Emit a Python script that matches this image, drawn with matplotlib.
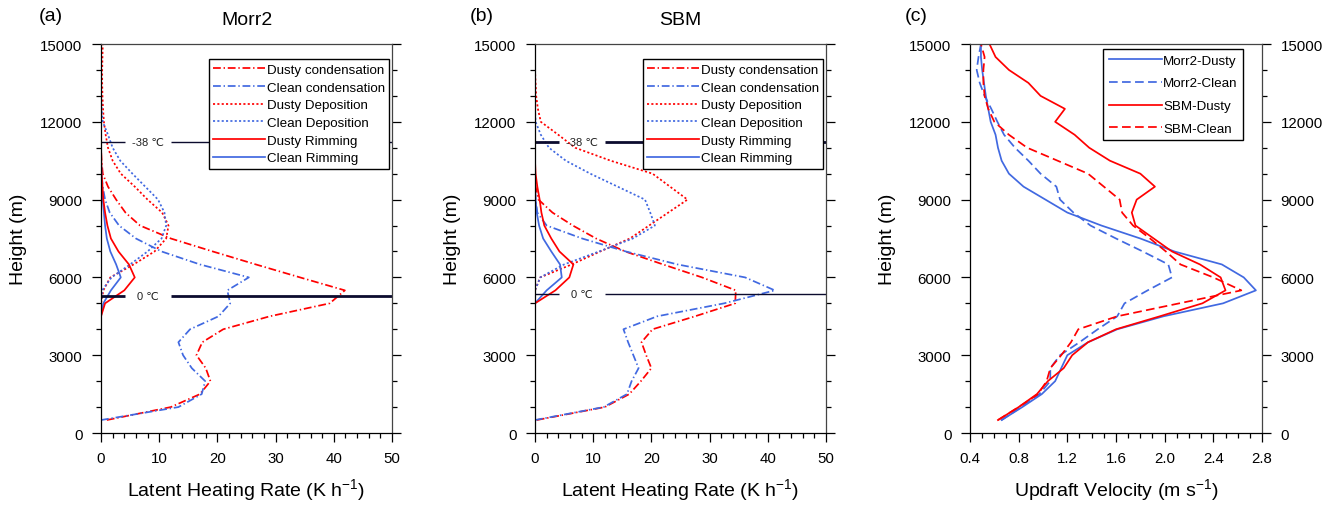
import matplotlib
matplotlib.use('Agg')
import matplotlib.pyplot as plt
from matplotlib.ticker import MultipleLocator

plt.rcParams['font.family'] = ['Liberation Sans', 'DejaVu Sans']
plt.rcParams['mathtext.default'] = 'regular'

# model levels (m)
heights = [500, 1000, 1500, 2000, 2500, 3000, 3500, 4000, 4500, 5000,
           5500, 6000, 6500, 7000, 7500, 8000, 8500, 9000, 9500, 10000,
           10500, 11000, 11500, 12000, 12500, 13000, 13500, 14000, 14500, 15000]

# Morr2 latent heating rates (K/h)
morr_dusty_cond = [1.0, 12.0, 17.0, 18.8, 18.0, 16.4, 17.4, 21.0, 29.0, 39.3,
                   41.9, 34.2, 26.6, 19.2, 12.0, 6.7, 4.2, 2.6, 1.2, 0.3,
                   0.1, 0, 0, 0, 0, 0, 0, 0, 0, 0]
morr_clean_cond = [0.0, 13.3, 17.3, 17.9, 15.6, 14.1, 13.3, 15.3, 20.2, 22.2,
                   21.7, 25.4, 17.0, 10.4, 6.0, 3.1, 1.5, 0.7, 0.3, 0.1,
                   0, 0, 0, 0, 0, 0, 0, 0, 0, 0]
morr_dusty_dep = [0, 0, 0, 0, 0, 0, 0, 0, 0, 0,
                  0.4, 1.6, 5.6, 9.2, 11.2, 11.6, 10.5, 8.0, 5.8, 3.4,
                  2.0, 1.2, 0.8, 0.5, 0.35, 0.25, 0.2, 0.2, 0.25, 0.3]
morr_clean_dep = [0, 0, 0, 0, 0, 0, 0, 0, 0, 0,
                  0.2, 1.8, 5.0, 8.0, 10.4, 11.2, 10.9, 9.8, 7.6, 5.4,
                  3.3, 2.0, 1.2, 0.3, 0.1, 0, 0, 0, 0, 0]
morr_dusty_rim = [0, 0, 0, 0, 0, 0, 0, 0, 0, 0.7,
                  4.0, 5.8, 4.8, 3.0, 1.7, 1.1, 0.7, 0.4, 0.25, 0.1,
                  0.05, 0, 0, 0, 0, 0, 0, 0, 0, 0]
morr_clean_rim = [0, 0, 0, 0, 0, 0, 0, 0, 0, 0.4,
                  1.7, 3.4, 2.6, 1.6, 1.0, 0.7, 0.5, 0.3, 0.2, 0.1,
                  0, 0, 0, 0, 0, 0, 0, 0, 0, 0]

# SBM latent heating rates (K/h)
sbm_dusty_cond = [0.3, 12.0, 16.2, 18.2, 20.0, 19.1, 18.3, 20.2, 27.5, 34.4,
                  34.5, 28.7, 22.0, 15.5, 10.5, 6.5, 3.0, 0.6, 0.1, 0,
                  0, 0, 0, 0, 0, 0, 0, 0, 0, 0]
sbm_clean_cond = [0.0, 11.8, 15.8, 16.6, 17.8, 16.9, 16.0, 15.2, 21.0, 32.5,
                  41.2, 36.1, 24.5, 15.6, 8.1, 2.0, 0.4, 0.1, 0, 0,
                  0, 0, 0, 0, 0, 0, 0, 0, 0, 0]
sbm_dusty_dep = [0, 0, 0, 0, 0, 0, 0, 0, 0, 0,
                 0, 0.9, 6.3, 11.2, 16.3, 19.6, 22.9, 26.2, 23.2, 20.2,
                 13.0, 6.9, 4.0, 1.0, 0.5, 0.2, 0.1, 0, 0, 0]
sbm_clean_dep = [0, 0, 0, 0, 0, 0, 0, 0, 0, 0,
                 0, 0.9, 5.0, 11.0, 16.8, 20.6, 19.8, 18.9, 14.2, 9.5,
                 5.3, 2.4, 1.0, 0.1, 0, 0, 0, 0, 0, 0]
sbm_dusty_rim = [0, 0, 0, 0, 0, 0, 0, 0, 0, 0,
                 3.5, 5.9, 6.6, 4.2, 2.8, 1.6, 1.1, 0.8, 0.4, 0.1,
                 0, 0, 0, 0, 0, 0, 0, 0, 0, 0]
sbm_clean_rim = [0, 0, 0, 0, 0, 0, 0, 0, 0, 0,
                 2.0, 4.6, 4.3, 2.8, 1.4, 0.7, 0.3, 0.1, 0, 0,
                 0, 0, 0, 0, 0, 0, 0, 0, 0, 0]

# mean updraft velocity (m/s)
w_morr_dusty = [0.66, 0.83, 0.99, 1.10, 1.15, 1.20, 1.37, 1.61, 1.99, 2.48,
                2.75, 2.65, 2.47, 2.08, 1.80, 1.48, 1.20, 1.02, 0.84, 0.72,
                0.66, 0.63, 0.61, 0.57, 0.55, 0.53, 0.515, 0.50, 0.49, 0.49]
w_morr_clean = [0.66, 0.82, 0.97, 1.06, 1.06, 1.14, 1.30, 1.45, 1.61, 1.67,
                1.86, 2.06, 2.03, 1.82, 1.60, 1.39, 1.25, 1.14, 1.11, 0.98,
                0.88, 0.77, 0.68, 0.625, 0.575, 0.52, 0.48, 0.455, 0.47, 0.49]
w_sbm_dusty = [0.63, 0.80, 0.95, 1.04, 1.17, 1.24, 1.37, 1.60, 1.96, 2.31,
               2.50, 2.46, 2.29, 2.06, 1.91, 1.76, 1.73, 1.77, 1.92, 1.80,
               1.55, 1.38, 1.26, 1.10, 1.18, 0.98, 0.88, 0.72, 0.61, 0.56]
w_sbm_clean = [0.63, 0.80, 0.96, 1.03, 1.06, 1.15, 1.23, 1.29, 1.61, 2.12,
               2.63, 2.40, 2.13, 2.01, 1.88, 1.74, 1.65, 1.63, 1.50, 1.37,
               1.12, 0.87, 0.72, 0.60, 0.55, 0.52, 0.51, 0.51, 0.52, 0.49]

# isotherm heights (m)
morr_t0, morr_t38 = 5270, 11230
sbm_t0, sbm_t38 = 5360, 11230

RED = '#ff0000'
BLUE = '#4169e1'
DASHDOT = (0, (4.5, 1.6, 0.8, 1.6))
DOTTED = (0, (1.2, 1.3))
DASHED = (0, (5, 2.5))
LW = 1.25


def style_axis(ax):
    ax.tick_params(which='both', direction='out', top=False, right=True,
                   labelsize=10.8, width=0.9)
    ax.tick_params(which='major', length=6.3, pad=7)
    ax.tick_params(which='minor', length=3.3)
    ax.yaxis.set_major_locator(MultipleLocator(3000))
    ax.yaxis.set_minor_locator(MultipleLocator(1000))
    ax.set_ylim(0, 15000)
    for side, sp in ax.spines.items():
        sp.set_linewidth(0.9)
        if side in ('top', 'right'):
            sp.set_color('#444444')
    ax.set_ylabel('Height (m)', fontsize=14)
    ax.yaxis.set_label_coords(-0.255, 0.5)


def isotherm(ax, h, label, lw):
    ax.plot([0, 4.1], [h, h], color='#0b0b2e', lw=lw, solid_capstyle='butt')
    ax.plot([12.1, 50], [h, h], color='#0b0b2e', lw=lw, solid_capstyle='butt')
    ax.text(8.1, h, label, ha='center', va='center', fontsize=8, color='#222222')


def heating_panel(ax, dc, cc, dd, cd, dr, cr, t0, t38, lw0, lw38, title):
    ax.plot(dc, heights, color=RED, ls=DASHDOT, lw=LW, label='Dusty condensation')
    ax.plot(cc, heights, color=BLUE, ls=DASHDOT, lw=LW, label='Clean condensation')
    ax.plot(dd, heights, color=RED, ls=DOTTED, lw=LW, label='Dusty Deposition')
    ax.plot(cd, heights, color=BLUE, ls=DOTTED, lw=LW, label='Clean Deposition')
    ax.plot(cr, heights, color=BLUE, lw=LW, label='Clean Rimming')
    ax.plot(dr, heights, color=RED, lw=LW, label='Dusty Rimming')
    isotherm(ax, t38, '-38 \u2103', lw38)
    isotherm(ax, t0, '0 \u2103', lw0)
    ax.set_xlim(0, 50)
    ax.xaxis.set_major_locator(MultipleLocator(10))
    ax.xaxis.set_minor_locator(MultipleLocator(2))
    style_axis(ax)
    ax.set_xlabel('Latent Heating Rate (K h$^{-1}$)', fontsize=14)
    ax.xaxis.set_label_coords(0.5, -0.11)
    ax.text(0.5, 1.064, title, transform=ax.transAxes, ha='center', va='center',
            fontsize=14)
    handles, labels = ax.get_legend_handles_labels()
    order = ['Dusty condensation', 'Clean condensation', 'Dusty Deposition',
             'Clean Deposition', 'Dusty Rimming', 'Clean Rimming']
    hl = dict(zip(labels, handles))
    leg = ax.legend([hl[k] for k in order], order, loc='upper right',
                    bbox_to_anchor=(0.99, 0.961), fontsize=9.6, handlelength=3.9,
                    handletextpad=0.1, labelspacing=0.4, borderpad=0.33,
                    borderaxespad=0, fancybox=False, framealpha=1,
                    edgecolor='black')
    leg.get_frame().set_linewidth(1.0)


fig = plt.figure(figsize=(13.38, 5.06), dpi=100)
ax_a = fig.add_axes([0.07549, 0.14229, 0.21749, 0.76877])
ax_b = fig.add_axes([0.39985, 0.14229, 0.21749, 0.76877])
ax_c = fig.add_axes([0.72496, 0.14229, 0.21824, 0.76877])

heating_panel(ax_a, morr_dusty_cond, morr_clean_cond, morr_dusty_dep, morr_clean_dep,
              morr_dusty_rim, morr_clean_rim, morr_t0, morr_t38, 2.0, 1.0, 'Morr2')
heating_panel(ax_b, sbm_dusty_cond, sbm_clean_cond, sbm_dusty_dep, sbm_clean_dep,
              sbm_dusty_rim, sbm_clean_rim, sbm_t0, sbm_t38, 1.0, 2.0, 'SBM')

# updraft panel
ax_c.plot(w_morr_dusty, heights, color=BLUE, lw=LW, label='Morr2-Dusty')
ax_c.plot(w_morr_clean, heights, color=BLUE, ls=DASHED, lw=LW, label='Morr2-Clean')
ax_c.plot(w_sbm_dusty, heights, color=RED, lw=LW, label='SBM-Dusty')
ax_c.plot(w_sbm_clean, heights, color=RED, ls=DASHED, lw=LW, label='SBM-Clean')
ax_c.set_xlim(0.4, 2.8)
ax_c.xaxis.set_major_locator(MultipleLocator(0.4))
ax_c.xaxis.set_minor_locator(MultipleLocator(0.1))
style_axis(ax_c)
ax_c.tick_params(labelright=True)
ax_c.set_xlabel('Updraft Velocity (m s$^{-1}$)', fontsize=14)
ax_c.xaxis.set_label_coords(0.5, -0.11)
leg = ax_c.legend(loc='upper right', bbox_to_anchor=(0.935, 0.987), fontsize=9.6,
                  handlelength=4.0, handletextpad=0.1, labelspacing=0.78,
                  borderpad=0.4, borderaxespad=0, fancybox=False, framealpha=1,
                  edgecolor='black')
leg.get_frame().set_linewidth(1.0)

fig.text(0.029, 0.968, '(a)', fontsize=14, va='center')
fig.text(0.351, 0.968, '(b)', fontsize=14, va='center')
fig.text(0.676, 0.968, '(c)', fontsize=14, va='center')

fig.savefig('out.png', dpi=100)
